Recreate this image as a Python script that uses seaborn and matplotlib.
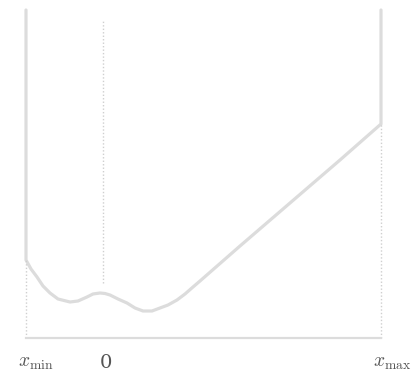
import matplotlib
matplotlib.use("Agg")
import matplotlib.pyplot as plt
import matplotlib.transforms as mtransforms
import seaborn as sns
import pandas as pd

curve_x = [-1.0, -1.0, -0.9375, -0.8625, -0.7875, -0.7, -0.6, -0.45, -0.35,
           -0.2375, -0.1625, -0.075, -0.0125, 0.05, 0.15, 0.2625, 0.3625,
           0.4625, 0.575, 0.675, 0.775, 0.8875, 0.9875, 1.0875, 1.175, 1.675,
           2.3, 2.925, 3.4375, 3.4375]
curve_y = [4.1, 0.975, 0.8625, 0.7625, 0.65, 0.5625, 0.4875, 0.45, 0.4625,
           0.5125, 0.55, 0.5625, 0.55625, 0.5375, 0.4875, 0.4375, 0.375,
           0.3375, 0.3375, 0.375, 0.4125, 0.475, 0.55, 0.6375, 0.7125, 1.15,
           1.6875, 2.225, 2.675, 4.1]

x_min, x_zero, x_max = -1.0, 0.0, 3.4375
tick_labels = [r"$x_{\mathrm{min}}$", "0", r"$x_{\mathrm{max}}$"]

sns.set_style("white")
plt.rcParams["mathtext.fontset"] = "cm"
plt.rcParams["font.family"] = ["DejaVu Serif"]

fig = plt.figure(figsize=(4.16, 3.78), dpi=100)
ax = fig.add_axes([0, 0, 1, 1])

df = pd.DataFrame({"x": curve_x, "y": curve_y})
sns.lineplot(data=df, x="x", y="y", sort=False, estimator=None,
             color="#dcdcdc", linewidth=2.3, solid_joinstyle="round", ax=ax)

# dotted guides
dot = dict(color="#cfcfcf", linewidth=1.0, linestyle=(0, (1, 1.5)))
ax.plot([x_min, x_min], [0, curve_y[1]], **dot)
ax.plot([x_max, x_max], [0, curve_y[-2]], **dot)
ax.plot([-0.04, -0.04], [0.69, 3.96], **dot)

ax.set_xlim(-106 / 80, 310 / 80)
ax.set_ylim(-40 / 80, 338 / 80)

for s in ["top", "right", "left"]:
    ax.spines[s].set_visible(False)
ax.spines["bottom"].set_position(("data", 0))
ax.spines["bottom"].set_bounds(x_min, x_max)
ax.spines["bottom"].set_color("#dcdcdc")
ax.spines["bottom"].set_linewidth(1.6)

ax.set_xticks([x_min, x_zero, x_max])
ax.set_xticklabels(tick_labels)
ax.tick_params(axis="x", direction="inout", length=9, width=1.6,
               color="#dcdcdc", labelcolor="#555555", labelsize=14, pad=7)
ax.set_yticks([])
ax.set_xlabel("")
ax.set_ylabel("")

# the "x" of x_min / x_max sits over its tick
shift = mtransforms.ScaledTranslation(-8 / 100, 0, fig.dpi_scale_trans)
for lab in ax.get_xticklabels():
    if lab.get_text() != "0":
        lab.set_horizontalalignment("left")
        lab.set_transform(lab.get_transform() + shift)

fig.savefig("out.png", dpi=100)
